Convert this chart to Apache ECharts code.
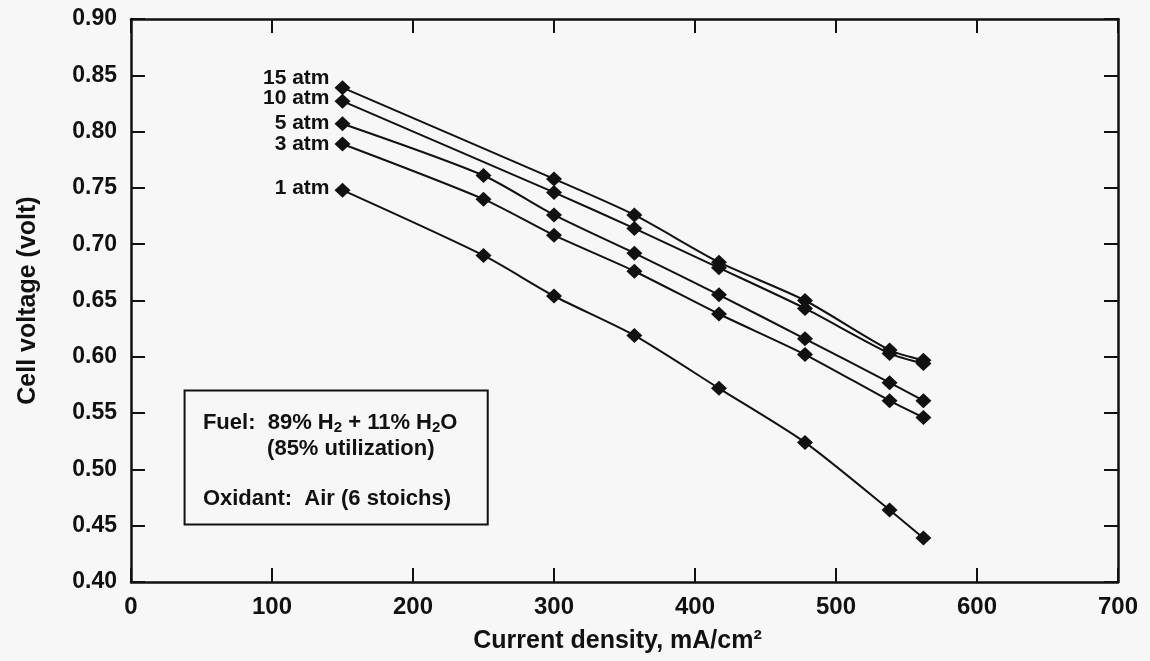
<!DOCTYPE html>
<html><head><meta charset="utf-8">
<script src="https://cdn.jsdelivr.net/npm/echarts@6/dist/echarts.min.js"></script>
<style>html,body{margin:0;padding:0;background:#f7f7f7}#c{width:1150px;height:661px}</style>
</head><body><div id="c"></div>
<script>
// ---- data ----
const seriesNames = ['15 atm', '10 atm', '5 atm', '3 atm', '1 atm'];
const currentA = [150, 300, 357, 417, 478, 538, 562];        // 15 & 10 atm
const currentB = [150, 250, 300, 357, 417, 478, 538, 562];   // 5, 3 & 1 atm
const v15 = [0.839, 0.758, 0.726, 0.684, 0.650, 0.606, 0.597];
const v10 = [0.827, 0.746, 0.714, 0.679, 0.643, 0.603, 0.594];
const v5  = [0.807, 0.761, 0.726, 0.692, 0.655, 0.616, 0.577, 0.561];
const v3  = [0.789, 0.740, 0.708, 0.676, 0.638, 0.602, 0.561, 0.546];
const v1  = [0.748, 0.690, 0.654, 0.619, 0.572, 0.524, 0.464, 0.439];
const xMin = 0, xMax = 700, xStep = 100;
const yMin = 0.40, yMax = 0.90, yStep = 0.05;
const xTitle = 'Current density, mA/cm\u00B2';
const yTitle = 'Cell voltage (volt)';
const noteFuelA = 'Fuel:  89% H', noteFuelB = ' + 11% H', noteFuelC = 'O', noteSub = '2';
const noteUtil = '(85% utilization)';
const noteOx = 'Oxidant:  Air (6 stoichs)';

// ---- style ----
const FONT = '"Liberation Sans", Arial, Helvetica, sans-serif';
const INK = '#111';
const labelDy = [-9, -3, -1, 0, -2];
const xs = [currentA, currentA, currentB, currentB, currentB];
const vs = [v15, v10, v5, v3, v1];

const chart = echarts.init(document.getElementById('c'), null, {renderer: 'canvas'});

const series = seriesNames.map((name, k) => ({
  name, type: 'line', xAxisIndex: 0, yAxisIndex: 0,
  smooth: 0.25,
  symbol: 'diamond', symbolSize: [16, 15],
  lineStyle: {color: INK, width: 2},
  itemStyle: {color: INK},
  emphasis: {disabled: true},
  animation: false,
  data: xs[k].map((x, i) => i === 0 ? {
    value: [x, vs[k][i]],
    label: {show: true, position: 'left', distance: 5, offset: [0, labelDy[k]],
      formatter: name, color: INK, fontFamily: FONT, fontWeight: 'bold', fontSize: 21}
  } : [x, vs[k][i]])
}));

function axisCommon() {
  return {
    axisLine: {show: true, onZero: false, lineStyle: {color: INK, width: 2.5}},
    axisTick: {show: true, inside: true, length: 14, lineStyle: {color: INK, width: 2}},
    splitLine: {show: false}
  };
}

chart.setOption({
  backgroundColor: '#f7f7f7',
  animation: false,
  grid: {left: 131, right: 32, top: 19, bottom: 79, containLabel: false},
  xAxis: [
    Object.assign({type: 'value', min: xMin, max: xMax, interval: xStep, position: 'bottom',
      name: xTitle, nameLocation: 'middle', nameGap: 47,
      nameTextStyle: {color: INK, fontFamily: FONT, fontWeight: 'bold', fontSize: 25, padding: [0, 14, 0, 0]},
      axisLabel: {color: INK, fontFamily: FONT, fontWeight: 'bold', fontSize: 24, margin: 13}}, axisCommon()),
    Object.assign({type: 'value', min: xMin, max: xMax, interval: xStep, position: 'top',
      axisLabel: {show: false}}, axisCommon())
  ],
  yAxis: [
    Object.assign({type: 'value', min: yMin, max: yMax, interval: yStep, position: 'left',
      name: yTitle, nameLocation: 'middle', nameGap: 90,
      nameTextStyle: {color: INK, fontFamily: FONT, fontWeight: 'bold', fontSize: 25},
      axisLabel: {color: INK, fontFamily: FONT, fontWeight: 'bold', fontSize: 23, margin: 14,
        formatter: v => v.toFixed(2)}}, axisCommon()),
    Object.assign({type: 'value', min: yMin, max: yMax, interval: yStep, position: 'right',
      axisLabel: {show: false}}, axisCommon())
  ],
  series
});

// ---- annotation box placed through the axes' scales ----
const P = (x, y) => chart.convertToPixel({xAxisIndex: 0, yAxisIndex: 0}, [x, y]);
const b0 = P(38, 0.570), b1 = P(253, 0.451);
const t1 = P(51, 0.544), t2 = P(96.5, 0.521), t3 = P(51, 0.476);
const TEXT_DY = 3;
const txt = {fill: INK, fontFamily: FONT, fontWeight: 'bold', fontSize: 22, textAlign: 'left', textVerticalAlign: 'middle'};
chart.setOption({
  graphic: [
    {type: 'rect', shape: {x: b0[0], y: b0[1], width: b1[0] - b0[0], height: b1[1] - b0[1]},
      style: {fill: '#f7f7f7', stroke: INK, lineWidth: 2}, z: 50},
    {type: 'text', x: t1[0], y: t1[1] + TEXT_DY, z: 51, style: Object.assign({}, txt, {
      text: '{m|' + noteFuelA + '}{s|' + noteSub + '}{m|' + noteFuelB + '}{s|' + noteSub + '}{m|' + noteFuelC + '}',
      rich: {
        m: {fill: INK, fontFamily: FONT, fontWeight: 'bold', fontSize: 22, lineHeight: 26, verticalAlign: 'middle'},
        s: {fill: INK, fontFamily: FONT, fontWeight: 'bold', fontSize: 15, lineHeight: 15, verticalAlign: 'bottom'}
      }})},
    {type: 'text', x: t2[0], y: t2[1] + TEXT_DY, z: 51, style: Object.assign({}, txt, {text: noteUtil})},
    {type: 'text', x: t3[0], y: t3[1] + TEXT_DY, z: 51, style: Object.assign({}, txt, {text: noteOx})}
  ]
});
</script></body></html>
